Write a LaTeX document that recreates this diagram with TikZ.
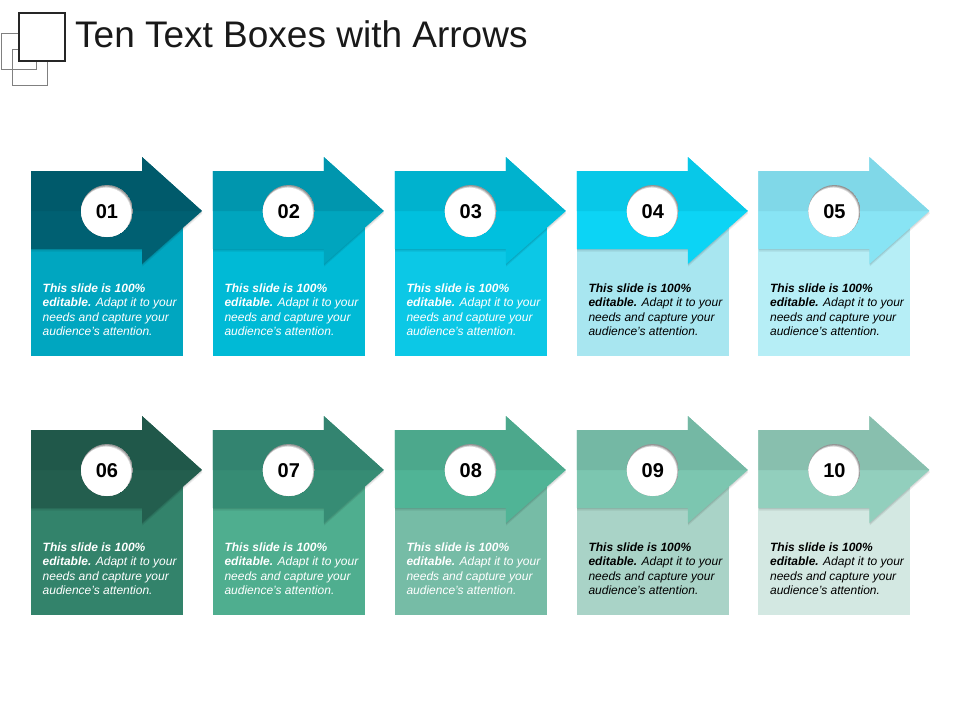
\documentclass[tikz,border=0pt]{standalone}
\usepackage{fontspec}
\setmainfont{Liberation Sans}
\usepackage{tikz}
\definecolor{top01}{HTML}{005A6B}\definecolor{low01}{HTML}{006072}\definecolor{box01}{HTML}{00A6C0}
\definecolor{top02}{HTML}{0096AE}\definecolor{low02}{HTML}{00A5BE}\definecolor{box02}{HTML}{00BAD6}
\definecolor{top03}{HTML}{00B2CE}\definecolor{low03}{HTML}{00C0DE}\definecolor{box03}{HTML}{0CC8E6}
\definecolor{top04}{HTML}{08C8E8}\definecolor{low04}{HTML}{0CD4F5}\definecolor{box04}{HTML}{A8E6F0}
\definecolor{top05}{HTML}{80D8E8}\definecolor{low05}{HTML}{88E4F4}\definecolor{box05}{HTML}{B6EEF6}
\definecolor{top06}{HTML}{20584A}\definecolor{low06}{HTML}{235E4E}\definecolor{box06}{HTML}{33836B}
\definecolor{top07}{HTML}{338470}\definecolor{low07}{HTML}{368C74}\definecolor{box07}{HTML}{4FAE8F}
\definecolor{top08}{HTML}{4CA88C}\definecolor{low08}{HTML}{50B496}\definecolor{box08}{HTML}{76BCA6}
\definecolor{top09}{HTML}{74B8A4}\definecolor{low09}{HTML}{7CC6B0}\definecolor{box09}{HTML}{A9D3C7}
\definecolor{top10}{HTML}{88BFAE}\definecolor{low10}{HTML}{92CFBD}\definecolor{box10}{HTML}{D3E8E2}
\tikzset{
	blurb/.style={anchor=west,inner sep=0pt,align=left,font=\fontsize{12}{14.4}\selectfont\itshape},
	numeral/.style={inner sep=0pt,font=\fontsize{20}{24}\selectfont\bfseries},
	heading/.style={anchor=base west,inner sep=0pt,font=\fontsize{37}{40}\selectfont,text=black!90}
}
\newcommand{\arrowpath}{(0,0) -- (111,0) -- (111,-14) -- (171,40) -- (111,93) -- (111,78) -- (0,78) -- cycle}

\begin{document}
\begin{tikzpicture}[x=1pt,y=-1pt]
	\useasboundingbox (0,0) rectangle (960,720);
	\draw[black!50,line width=1pt] (1,33) rectangle (36,69);
	\draw[black!50,line width=1pt] (12,49) rectangle (47,85);
	\draw[black!85,fill=white,line width=1.6pt] (19,13) rectangle (65,61);
	\node[heading] (title) at (75,47) {Ten Text Boxes with Arrows};
	\foreach \n/\px/\py/\ink in {01/31/171/white,02/212.8/171/white,03/394.8/171/white,04/576.8/171/black,05/758.4/171/black,
		06/31/430/white,07/212.8/430/white,08/394.8/430/white,09/576.8/430/black,10/758.4/430/black}{
		\begin{scope}[shift={(\px,\py)}]
			\fill[box\n] (0,40) rectangle (152,185);
			\fill[black,opacity=0.07,shift={(0.4,2.5)}] \arrowpath;
			\fill[black,opacity=0.09,shift={(0.2,1.2)}] \arrowpath;
			\fill[low\n] \arrowpath;
			\fill[top\n] (0,0) -- (111,0) -- (111,-14) -- (171,40) -- (0,40) -- cycle;
			\begin{scope}
				\clip (76,40) circle (26);
				\fill[black!42] (76,40) circle (26);
				\fill[black!28] (75.6,40.7) circle (25.6);
				\fill[black!14] (75.25,41.3) circle (25.4);
				\fill[white] (74.9,41.9) circle (25.2);
			\end{scope}
			\node[numeral] (num\n) at (76,41) {\n};
			\node[blurb,text=\ink] (blurb\n) at (11.5,138.8) {\textbf{This slide is 100\%}\\\textbf{editable.} Adapt it to your\\needs and capture your\\audience's attention.};
		\end{scope}}
\end{tikzpicture}
\end{document}
